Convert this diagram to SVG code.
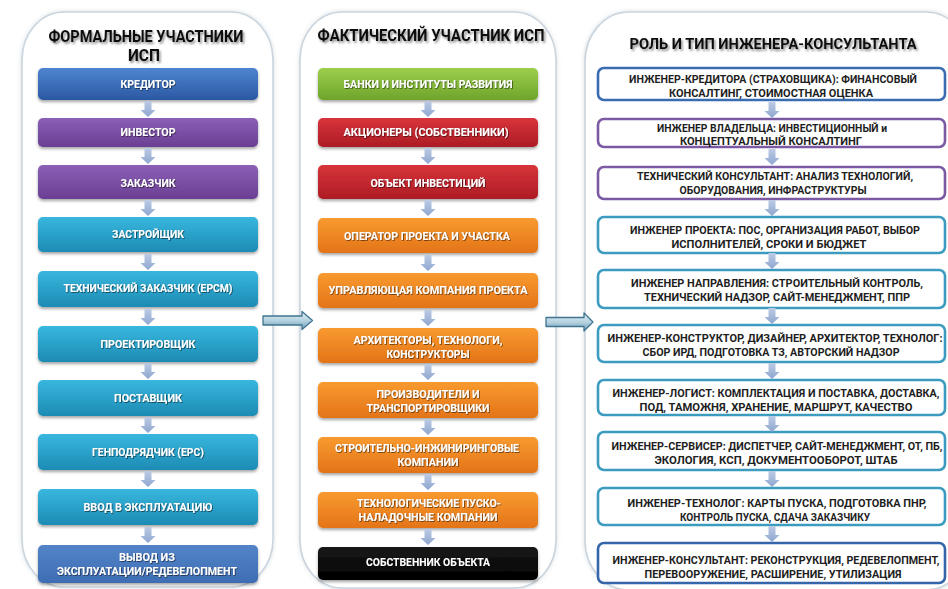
<svg xmlns="http://www.w3.org/2000/svg" xmlns:xlink="http://www.w3.org/1999/xlink" width="948" height="589" viewBox="0 0 948 589">
<defs>
<style>
.panel{fill:#ffffff;stroke:#cbd5de;stroke-width:1.6}
.title{font-family:Roboto,"Noto Sans","DejaVu Sans",sans-serif;font-weight:bold;font-size:17px;fill:#111;text-anchor:middle}
.title.sm{font-size:15px}
.wt{font-family:Roboto,"Noto Sans","DejaVu Sans",sans-serif;font-weight:bold;font-size:11.5px;fill:#ffffff;text-anchor:middle}
.dt{font-family:Roboto,"Noto Sans","DejaVu Sans",sans-serif;font-weight:bold;font-size:11.5px;fill:#1e1e1e;text-anchor:middle}
.dt.lg{font-size:10.5px}
.rb{fill:#ffffff;stroke-width:2.6}
.rblue{stroke:#3a6cb2}
.rpur{stroke:#7b5aa3}
.rteal{stroke:#3b9cc0}
.rdblue{stroke:#3566aa}
</style>
<linearGradient id="gBlue" x1="0" y1="0" x2="0" y2="1"><stop offset="0" stop-color="#4f85d0"/><stop offset="1" stop-color="#2b58a2"/></linearGradient>
<linearGradient id="gPur" x1="0" y1="0" x2="0" y2="1"><stop offset="0" stop-color="#8b5fb6"/><stop offset="1" stop-color="#6a3f93"/></linearGradient>
<linearGradient id="gCyan" x1="0" y1="0" x2="0" y2="1"><stop offset="0" stop-color="#38b7de"/><stop offset="1" stop-color="#1d8bb4"/></linearGradient>
<linearGradient id="gSteel" x1="0" y1="0" x2="0" y2="1"><stop offset="0" stop-color="#5384c8"/><stop offset="1" stop-color="#3e6db3"/></linearGradient>
<linearGradient id="gGreen" x1="0" y1="0" x2="0" y2="1"><stop offset="0" stop-color="#9dcf4d"/><stop offset="1" stop-color="#6ea42b"/></linearGradient>
<linearGradient id="gRed" x1="0" y1="0" x2="0" y2="1"><stop offset="0" stop-color="#d8343b"/><stop offset="1" stop-color="#ad1c24"/></linearGradient>
<linearGradient id="gOr" x1="0" y1="0" x2="0" y2="1"><stop offset="0" stop-color="#f89a2f"/><stop offset="1" stop-color="#e47418"/></linearGradient>
<linearGradient id="gBlk" x1="0" y1="0" x2="0" y2="1"><stop offset="0" stop-color="#1a1a1a"/><stop offset="1" stop-color="#000000"/></linearGradient>
<linearGradient id="gArr" x1="0" y1="0" x2="0" y2="1"><stop offset="0" stop-color="#bccbe4"/><stop offset="1" stop-color="#8ea6cf"/></linearGradient>
<linearGradient id="gBig" x1="0" y1="0" x2="0" y2="1"><stop offset="0" stop-color="#e6f1f6"/><stop offset="0.5" stop-color="#b5d2e0"/><stop offset="1" stop-color="#6f9fb8"/></linearGradient>
<filter id="shBox" x="-10%" y="-30%" width="120%" height="170%"><feDropShadow dx="0" dy="2" stdDeviation="1.5" flood-color="#000" flood-opacity="0.35"/></filter>
<filter id="shPanel" x="-10%" y="-10%" width="120%" height="120%"><feDropShadow dx="0" dy="0" stdDeviation="2" flood-color="#8aa0b0" flood-opacity="0.35"/></filter>
<filter id="shTxt" x="-10%" y="-40%" width="120%" height="180%"><feDropShadow dx="0.8" dy="0.8" stdDeviation="0.7" flood-color="#000" flood-opacity="0.6"/></filter>
<filter id="shTitle" x="-10%" y="-40%" width="120%" height="180%"><feDropShadow dx="1.5" dy="2" stdDeviation="1.3" flood-color="#000" flood-opacity="0.45"/></filter>
<path id="dn" d="M-3.5,0 h7 v9 h4 l-7.5,7 l-7.5,-7 h4 z" fill="url(#gArr)"/>
</defs>

<g id="panels">
<rect id="panel-formal" class="panel" filter="url(#shPanel)" x="22" y="12" width="251" height="575" rx="42" ry="48"/>
<rect id="panel-actual" class="panel" filter="url(#shPanel)" x="300" y="12" width="256" height="576" rx="42" ry="48"/>
<rect id="panel-role" class="panel" filter="url(#shPanel)" x="585" y="12" width="385" height="578" rx="44" ry="50"/>
</g>

<g id="titles" filter="url(#shTitle)">
<text class="title" x="146" y="42" textLength="195" lengthAdjust="spacingAndGlyphs">ФОРМАЛЬНЫЕ УЧАСТНИКИ</text>
<text class="title" x="144" y="61" textLength="32" lengthAdjust="spacingAndGlyphs">ИСП</text>
<text class="title" x="431" y="41" textLength="227" lengthAdjust="spacingAndGlyphs">ФАКТИЧЕСКИЙ УЧАСТНИК ИСП</text>
<text class="title sm" x="773" y="49" textLength="287" lengthAdjust="spacingAndGlyphs">РОЛЬ И ТИП ИНЖЕНЕРА-КОНСУЛЬТАНТА</text>
</g>

<!-- Left column -->
<g id="n-kreditor"><rect x="38" y="68" width="220" height="32" rx="5" fill="url(#gBlue)" filter="url(#shBox)"/><text class="wt" filter="url(#shTxt)" x="148" y="88" textLength="55" lengthAdjust="spacingAndGlyphs">КРЕДИТОР</text></g>
<g id="n-investor"><rect x="38" y="118" width="220" height="29" rx="5" fill="url(#gPur)" filter="url(#shBox)"/><text class="wt" filter="url(#shTxt)" x="148" y="136" textLength="55" lengthAdjust="spacingAndGlyphs">ИНВЕСТОР</text></g>
<g id="n-zakazchik"><rect x="38" y="165" width="220" height="34" rx="5" fill="url(#gPur)" filter="url(#shBox)"/><text class="wt" filter="url(#shTxt)" x="148" y="187" textLength="55" lengthAdjust="spacingAndGlyphs">ЗАКАЗЧИК</text></g>
<g id="n-zastroishik"><rect x="38" y="217" width="220" height="35" rx="5" fill="url(#gCyan)" filter="url(#shBox)"/><text class="wt" filter="url(#shTxt)" x="148" y="238" textLength="72" lengthAdjust="spacingAndGlyphs">ЗАСТРОЙЩИК</text></g>
<g id="n-tech-zakazchik"><rect x="38" y="271" width="220" height="36" rx="5" fill="url(#gCyan)" filter="url(#shBox)"/><text class="wt" filter="url(#shTxt)" x="148" y="292" textLength="169" lengthAdjust="spacingAndGlyphs">ТЕХНИЧЕСКИЙ ЗАКАЗЧИК (EPCM)</text></g>
<g id="n-proektirovshik"><rect x="38" y="326" width="220" height="36" rx="5" fill="url(#gCyan)" filter="url(#shBox)"/><text class="wt" filter="url(#shTxt)" x="148" y="348" textLength="95" lengthAdjust="spacingAndGlyphs">ПРОЕКТИРОВЩИК</text></g>
<g id="n-postavshik"><rect x="38" y="380" width="220" height="36" rx="5" fill="url(#gCyan)" filter="url(#shBox)"/><text class="wt" filter="url(#shTxt)" x="148" y="402" textLength="68" lengthAdjust="spacingAndGlyphs">ПОСТАВЩИК</text></g>
<g id="n-genpodryadchik"><rect x="38" y="434" width="220" height="36" rx="5" fill="url(#gCyan)" filter="url(#shBox)"/><text class="wt" filter="url(#shTxt)" x="148" y="456" textLength="112" lengthAdjust="spacingAndGlyphs">ГЕНПОДРЯДЧИК (EPC)</text></g>
<g id="n-vvod"><rect x="38" y="489" width="220" height="36" rx="5" fill="url(#gCyan)" filter="url(#shBox)"/><text class="wt" filter="url(#shTxt)" x="148" y="511" textLength="129" lengthAdjust="spacingAndGlyphs">ВВОД В ЭКСПЛУАТАЦИЮ</text></g>
<g id="n-vyvod"><rect x="38" y="545" width="220" height="38" rx="5" fill="url(#gSteel)" filter="url(#shBox)"/><text class="wt" filter="url(#shTxt)" x="147" y="561" textLength="56" lengthAdjust="spacingAndGlyphs">ВЫВОД ИЗ</text><text class="wt" filter="url(#shTxt)" x="147" y="575" textLength="180" lengthAdjust="spacingAndGlyphs">ЭКСПЛУАТАЦИИ/РЕДЕВЕЛОПМЕНТ</text></g>

<!-- Middle column -->
<g id="n-banki"><rect x="318" y="68" width="220" height="32" rx="5" fill="url(#gGreen)" filter="url(#shBox)"/><text class="wt" filter="url(#shTxt)" x="428" y="88" textLength="169" lengthAdjust="spacingAndGlyphs">БАНКИ И ИНСТИТУТЫ РАЗВИТИЯ</text></g>
<g id="n-akcionery"><rect x="318" y="118" width="220" height="29" rx="5" fill="url(#gRed)" filter="url(#shBox)"/><text class="wt" filter="url(#shTxt)" x="426" y="136" textLength="165" lengthAdjust="spacingAndGlyphs">АКЦИОНЕРЫ (СОБСТВЕННИКИ)</text></g>
<g id="n-obekt"><rect x="318" y="165" width="220" height="34" rx="5" fill="url(#gRed)" filter="url(#shBox)"/><text class="wt" filter="url(#shTxt)" x="428" y="187" textLength="115" lengthAdjust="spacingAndGlyphs">ОБЪЕКТ ИНВЕСТИЦИЙ</text></g>
<g id="n-operator"><rect x="318" y="218" width="220" height="35" rx="5" fill="url(#gOr)" filter="url(#shBox)"/><text class="wt" filter="url(#shTxt)" x="427" y="240" textLength="166" lengthAdjust="spacingAndGlyphs">ОПЕРАТОР ПРОЕКТА И УЧАСТКА</text></g>
<g id="n-uk"><rect x="318" y="273" width="220" height="35" rx="5" fill="url(#gOr)" filter="url(#shBox)"/><text class="wt" filter="url(#shTxt)" x="428" y="294" textLength="199" lengthAdjust="spacingAndGlyphs">УПРАВЛЯЮЩАЯ КОМПАНИЯ ПРОЕКТА</text></g>
<g id="n-arhitektory"><rect x="318" y="328" width="220" height="35" rx="5" fill="url(#gOr)" filter="url(#shBox)"/><text class="wt" filter="url(#shTxt)" x="428" y="344" textLength="149" lengthAdjust="spacingAndGlyphs">АРХИТЕКТОРЫ, ТЕХНОЛОГИ,</text><text class="wt" filter="url(#shTxt)" x="428" y="357.5" textLength="83" lengthAdjust="spacingAndGlyphs">КОНСТРУКТОРЫ</text></g>
<g id="n-proizvoditeli"><rect x="318" y="382" width="220" height="36" rx="5" fill="url(#gOr)" filter="url(#shBox)"/><text class="wt" filter="url(#shTxt)" x="428" y="398" textLength="103" lengthAdjust="spacingAndGlyphs">ПРОИЗВОДИТЕЛИ И</text><text class="wt" filter="url(#shTxt)" x="428" y="412" textLength="123" lengthAdjust="spacingAndGlyphs">ТРАНСПОРТИРОВЩИКИ</text></g>
<g id="n-stroitelno"><rect x="318" y="437" width="220" height="36" rx="5" fill="url(#gOr)" filter="url(#shBox)"/><text class="wt" filter="url(#shTxt)" x="427" y="452" textLength="184" lengthAdjust="spacingAndGlyphs">СТРОИТЕЛЬНО-ИНЖИНИРИНГОВЫЕ</text><text class="wt" filter="url(#shTxt)" x="428" y="466" textLength="61" lengthAdjust="spacingAndGlyphs">КОМПАНИИ</text></g>
<g id="n-pnr"><rect x="318" y="492" width="220" height="36" rx="5" fill="url(#gOr)" filter="url(#shBox)"/><text class="wt" filter="url(#shTxt)" x="429" y="507" textLength="144" lengthAdjust="spacingAndGlyphs">ТЕХНОЛОГИЧЕСКИЕ ПУСКО-</text><text class="wt" filter="url(#shTxt)" x="428" y="521" textLength="139" lengthAdjust="spacingAndGlyphs">НАЛАДОЧНЫЕ КОМПАНИИ</text></g>
<g id="n-sobstvennik"><rect x="318" y="547" width="220" height="33" rx="5" fill="url(#gBlk)" filter="url(#shBox)"/><text class="wt" filter="url(#shTxt)" x="428" y="566" textLength="124" lengthAdjust="spacingAndGlyphs">СОБСТВЕННИК ОБЪЕКТА</text></g>

<!-- Right column -->
<g id="r-1"><rect class="rb rblue" x="598" y="68" width="347" height="32" rx="6"/><text class="dt" x="773" y="83" textLength="288" lengthAdjust="spacingAndGlyphs">ИНЖЕНЕР-КРЕДИТОРА (СТРАХОВЩИКА): ФИНАНСОВЫЙ</text><text class="dt" x="771" y="96.5" textLength="204" lengthAdjust="spacingAndGlyphs">КОНСАЛТИНГ, СТОИМОСТНАЯ ОЦЕНКА</text></g>
<g id="r-2"><rect class="rb rpur" x="598" y="119" width="347" height="28" rx="6"/><text class="dt" x="772" y="132" textLength="230" lengthAdjust="spacingAndGlyphs">ИНЖЕНЕР ВЛАДЕЛЬЦА: ИНВЕСТИЦИОННЫЙ и</text><text class="dt" x="771" y="145" textLength="182" lengthAdjust="spacingAndGlyphs">КОНЦЕПТУАЛЬНЫЙ КОНСАЛТИНГ</text></g>
<g id="r-3"><rect class="rb rpur" x="598" y="167" width="347" height="32" rx="6"/><text class="dt" x="775" y="180" textLength="276" lengthAdjust="spacingAndGlyphs">ТЕХНИЧЕСКИЙ КОНСУЛЬТАНТ: АНАЛИЗ ТЕХНОЛОГИЙ,</text><text class="dt" x="773" y="194" textLength="187" lengthAdjust="spacingAndGlyphs">ОБОРУДОВАНИЯ, ИНФРАСТРУКТУРЫ</text></g>
<g id="r-4"><rect class="rb rteal" x="598" y="217" width="347" height="36" rx="6"/><text class="dt" x="775" y="234" textLength="290" lengthAdjust="spacingAndGlyphs">ИНЖЕНЕР ПРОЕКТА: ПОС, ОРГАНИЗАЦИЯ РАБОТ, ВЫБОР</text><text class="dt" x="769" y="247.5" textLength="195" lengthAdjust="spacingAndGlyphs">ИСПОЛНИТЕЛЕЙ, СРОКИ И БЮДЖЕТ</text></g>
<g id="r-5"><rect class="rb rteal" x="598" y="270" width="347" height="38" rx="6"/><text class="dt" x="777" y="287" textLength="292" lengthAdjust="spacingAndGlyphs">ИНЖЕНЕР НАПРАВЛЕНИЯ: СТРОИТЕЛЬНЫЙ КОНТРОЛЬ,</text><text class="dt" x="777" y="300.5" textLength="266" lengthAdjust="spacingAndGlyphs">ТЕХНИЧЕСКИЙ НАДЗОР, САЙТ-МЕНЕДЖМЕНТ, ППР</text></g>
<g id="r-6"><rect class="rb rteal" x="598" y="325" width="347" height="37" rx="6"/><text class="dt lg" x="775" y="342" textLength="335" lengthAdjust="spacingAndGlyphs">ИНЖЕНЕР-КОНСТРУКТОР, ДИЗАЙНЕР, АРХИТЕКТОР, ТЕХНОЛОГ:</text><text class="dt" x="771" y="355.5" textLength="257" lengthAdjust="spacingAndGlyphs">СБОР ИРД, ПОДГОТОВКА ТЗ, АВТОРСКИЙ НАДЗОР</text></g>
<g id="r-7"><rect class="rb rteal" x="598" y="380" width="347" height="35" rx="6"/><text class="dt lg" x="776" y="397" textLength="327" lengthAdjust="spacingAndGlyphs">ИНЖЕНЕР-ЛОГИСТ: КОМПЛЕКТАЦИЯ И ПОСТАВКА, ДОСТАВКА,</text><text class="dt" x="776" y="410.5" textLength="273" lengthAdjust="spacingAndGlyphs">ПОД, ТАМОЖНЯ, ХРАНЕНИЕ, МАРШРУТ, КАЧЕСТВО</text></g>
<g id="r-8"><rect class="rb rteal" x="598" y="432" width="347" height="38" rx="6"/><text class="dt lg" x="777" y="450" textLength="331" lengthAdjust="spacingAndGlyphs">ИНЖЕНЕР-СЕРВИСЕР: ДИСПЕТЧЕР, САЙТ-МЕНЕДЖМЕНТ, ОТ, ПБ,</text><text class="dt" x="776" y="464" textLength="243" lengthAdjust="spacingAndGlyphs">ЭКОЛОГИЯ, КСП, ДОКУМЕНТООБОРОТ, ШТАБ</text></g>
<g id="r-9"><rect class="rb rteal" x="598" y="488" width="347" height="37" rx="6"/><text class="dt" x="777" y="507" textLength="299" lengthAdjust="spacingAndGlyphs">ИНЖЕНЕР-ТЕХНОЛОГ: КАРТЫ ПУСКА, ПОДГОТОВКА ПНР,</text><text class="dt" x="775" y="520.5" textLength="190" lengthAdjust="spacingAndGlyphs">КОНТРОЛЬ ПУСКА, СДАЧА ЗАКАЗЧИКУ</text></g>
<g id="r-10"><rect class="rb rdblue" x="598" y="543" width="347" height="40" rx="6"/><text class="dt lg" x="776" y="564" textLength="327" lengthAdjust="spacingAndGlyphs">ИНЖЕНЕР-КОНСУЛЬТАНТ: РЕКОНСТРУКЦИЯ, РЕДЕВЕЛОПМЕНТ,</text><text class="dt" x="773" y="577.5" textLength="257" lengthAdjust="spacingAndGlyphs">ПЕРЕВООРУЖЕНИЕ, РАСШИРЕНИЕ, УТИЛИЗАЦИЯ</text></g>

<g id="connectors">
<use href="#dn" x="148" y="101"/><use href="#dn" x="148" y="148"/><use href="#dn" x="148" y="200"/><use href="#dn" x="148" y="254"/><use href="#dn" x="148" y="309"/><use href="#dn" x="148" y="363"/><use href="#dn" x="148" y="417"/><use href="#dn" x="148" y="471"/><use href="#dn" x="148" y="527"/>
<use href="#dn" x="428" y="101"/><use href="#dn" x="428" y="148"/><use href="#dn" x="428" y="200"/><use href="#dn" x="428" y="255"/><use href="#dn" x="428" y="310"/><use href="#dn" x="428" y="364"/><use href="#dn" x="428" y="419"/><use href="#dn" x="428" y="474"/><use href="#dn" x="428" y="529"/>
<use href="#dn" x="772" y="102"/><use href="#dn" x="772" y="149"/><use href="#dn" x="772" y="200"/><use href="#dn" x="772" y="253"/><use href="#dn" x="772" y="308"/><use href="#dn" x="772" y="363"/><use href="#dn" x="772" y="416"/><use href="#dn" x="772" y="471"/><use href="#dn" x="772" y="526"/>
<path d="M263,316 H302 V311.5 L312.5,320.5 L302,329.5 V325 H263 Z" fill="url(#gBig)" stroke="#3f7490" stroke-width="1.3" stroke-linejoin="round"/>
<path d="M546,317.5 H584 V313 L593,322 L584,331 V326.5 H546 Z" fill="url(#gBig)" stroke="#3f7490" stroke-width="1.3" stroke-linejoin="round"/>
</g>
</svg>
